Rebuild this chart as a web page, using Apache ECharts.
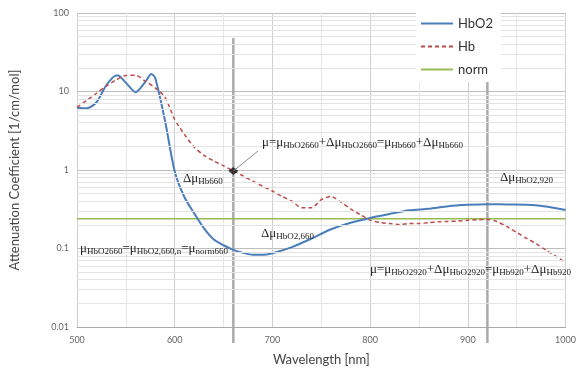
<!DOCTYPE html>
<html>
<head>
<meta charset="utf-8">
<script src="https://cdn.jsdelivr.net/npm/echarts@6/dist/echarts.min.js"></script>
<style>
  html, body { margin: 0; padding: 0; background: #fff; }
  #chart { width: 579px; height: 381px; }
</style>
</head>
<body>
<div id="chart"></div>
<script>
// wavelength [nm] / attenuation values
var hbo2X = [500,510,520,530,540,542,550,560,570,576,580,590,600,610,620,630,640,650,660,670,680,690,700,720,740,760,780,800,820,840,860,880,900,920,940,960,980,1000];
var hbo2Y = [6.2,6.1,7.3,12.0,16.0,16.0,12.9,9.8,13.3,16.7,15.0,4.3,0.96,0.45,0.28,0.18,0.13,0.11,0.096,0.088,0.083,0.083,0.087,0.104,0.134,0.176,0.213,0.245,0.275,0.307,0.32,0.346,0.36,0.367,0.364,0.362,0.343,0.31];

var hbX = [500,510,520,530,540,550,560,570,580,590,600,610,620,630,640,650,660,670,680,690,700,710,720,730,740,750,760,770,780,790,800,810,820,830,840,850,860,870,880,890,900,910,920,930,940,950,960,970,980,990,1000];
var hbY = [6.3,7.7,9.5,11.7,14.0,16.0,16.1,13.5,11.1,8.5,4.4,2.83,1.95,1.54,1.3,1.13,0.97,0.84,0.72,0.62,0.54,0.46,0.40,0.33,0.33,0.42,0.46,0.39,0.32,0.27,0.23,0.215,0.208,0.202,0.208,0.208,0.214,0.219,0.221,0.224,0.229,0.232,0.235,0.22,0.19,0.16,0.135,0.115,0.095,0.08,0.066];

var normX = [500, 1000];
var normY = [0.24, 0.24];

var markWl = [660, 920];       // vertical reference lines
var pointX = [660];            // black point on Hb curve
var pointY = [0.97];

function pairs(xs, ys) {
  return xs.map(function (x, i) { return [x, ys[i]]; });
}

// minor log grid lines 2..9 in each decade
var minorY = [];
for (var d = 0.01; d < 100; d *= 10) {
  for (var k = 2; k <= 9; k++) minorY.push({ yAxis: +(k * d).toPrecision(3) });
}

var chart = echarts.init(document.getElementById('chart'));
var axisFont = 'Lato, "Open Sans", sans-serif';
var serif = '"Liberation Serif", "DejaVu Serif", serif';

chart.setOption({
  animation: false,
  grid: { left: 76, right: 9, top: 13, bottom: 54 },
  legend: {
    orient: 'vertical',
    left: 416, top: 13, z: 10,
    data: ['HbO2', 'Hb', 'norm'],
    itemWidth: 32, itemHeight: 12, itemGap: 8,
    itemStyle: { opacity: 0 },
    backgroundColor: '#fff',
    padding: [3, 8, 5, 4],
    textStyle: { fontFamily: axisFont, fontSize: 13, color: '#333', lineHeight: 15 }
  },
  xAxis: {
    type: 'value', min: 500, max: 1000, interval: 100,
    name: 'Wavelength [nm]', nameLocation: 'middle', nameGap: 26,
    nameTextStyle: { fontFamily: axisFont, fontSize: 13, color: '#444' },
    axisLine: { lineStyle: { color: '#aaa' } },
    axisTick: { show: false },
    axisLabel: { fontFamily: axisFont, fontSize: 9, color: '#666', margin: 9,
      formatter: function (v) { return String(v); } },
    splitLine: { lineStyle: { color: '#cfcfcf' } },
    minorTick: { show: false, splitNumber: 2 },
    minorSplitLine: { show: true, lineStyle: { color: '#e6e6e6' } }
  },
  yAxis: {
    type: 'log', logBase: 10, min: 0.01, max: 100,
    name: 'Attenuation Coefficient [1/cm/mol]', nameLocation: 'middle', nameGap: 56,
    nameTextStyle: { fontFamily: axisFont, fontSize: 13, color: '#444' },
    axisLine: { show: false },
    axisTick: { show: false },
    axisLabel: {
      fontFamily: axisFont, fontSize: 9, color: '#666', margin: 8,
      formatter: function (v) { return String(+v.toPrecision(3)); }
    },
    splitLine: { lineStyle: { color: '#bdbdbd' } }
  },
  series: [
    {
      name: 'grid', type: 'line', data: [], z: 1, silent: true,
      markLine: {
        silent: true, symbol: 'none', label: { show: false },
        lineStyle: { color: '#e3e3e3', type: 'solid', width: 1 },
        data: minorY
      }
    },
    {
      name: 'HbO2', type: 'line', smooth: 0.25, symbol: 'none', z: 4,
      data: pairs(hbo2X, hbo2Y),
      lineStyle: { color: '#4a7ebb', width: 2 },
      itemStyle: { color: '#4a7ebb' }
    },
    {
      name: 'Hb', type: 'line', smooth: 0.25, symbol: 'none', z: 4,
      data: pairs(hbX, hbY),
      lineStyle: { color: '#be4b48', width: 1.5, type: [4, 3] },
      itemStyle: { color: '#be4b48' }
    },
    {
      name: 'norm', type: 'line', symbol: 'none', z: 3,
      data: pairs(normX, normY),
      lineStyle: { color: '#98b954', width: 1.5 },
      itemStyle: { color: '#98b954' }
    },
    {
      name: 'point', type: 'scatter', z: 5,
      data: pairs(pointX, pointY),
      symbol: 'diamond', symbolSize: [10, 8],
      itemStyle: { color: '#111' }
    }
  ]
});

var rich = {
  m: { fontFamily: serif, fontSize: 13, color: '#222' },
  s: { fontFamily: serif, fontSize: 9, color: '#222', padding: [6, 0, 0, 0] }
};
function note(x, y, txt) {
  return {
    type: 'text', left: x, top: y, z: 10, silent: true,
    style: { text: txt, rich: rich, fontFamily: serif, fontSize: 13, fill: '#222' }
  };
}
var dot = chart.convertToPixel({ gridIndex: 0 }, [pointX[0], pointY[0]]);
var vlines = markWl.map(function (w) {
  var px = chart.convertToPixel({ gridIndex: 0 }, [w, 1])[0];
  return {
    type: 'line', z: 2, silent: true,
    shape: { x1: px, y1: 38, x2: px, y2: 343 },
    style: { stroke: '#aaa', lineWidth: 2.5 }
  };
});

chart.setOption({
  graphic: vlines.concat([
    {
      type: 'line', z: 9, silent: true,
      shape: { x1: dot[0], y1: dot[1], x2: 258, y2: 151 },
      style: { stroke: '#888', lineWidth: 1 }
    },
    note(262, 136, '{m|μ=μ}{s|HbO2660}{m|+Δμ}{s|HbO2660}{m|=μ}{s|Hb660}{m|+Δμ}{s|Hb660}'),
    note(183, 172, '{m|Δμ}{s|Hb660}'),
    note(261, 227, '{m|Δμ}{s|HbO2,660}'),
    note(80, 242, '{m|μ}{s|HbO2660}{m|=μ}{s|HbO2,660,n}{m|=μ}{s|norm660}'),
    note(500, 171, '{m|Δμ}{s|HbO2,920}'),
    note(370, 263, '{m|μ=μ}{s|HbO2920}{m|+Δμ}{s|HbO2920}{m|=μ}{s|Hb920}{m|+Δμ}{s|Hb920}')
  ])
});
</script>
</body>
</html>
